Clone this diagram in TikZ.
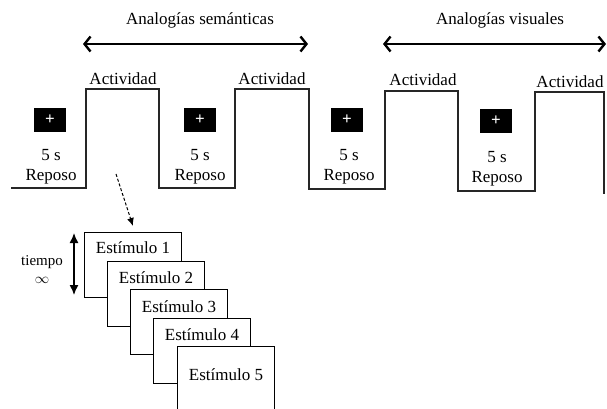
\documentclass[tikz,border=0pt]{standalone}
\usepackage{fontspec}
\setmainfont{Liberation Serif}
\usetikzlibrary{arrows.meta,positioning,calc}

\begin{document}
\begin{tikzpicture}[
  x=1pt, y=-1pt,
  font=\fontsize{17}{20}\selectfont,
  wave/.style  = {line width=1.6pt, black!85, line join=miter},
  span/.style  = {{Straight Barb[length=6pt,width=15pt,line width=2.4pt]}-{Straight Barb[length=6pt,width=15pt,line width=2.4pt]},
                  line width=1.5pt},
  cross/.style = {fill=black, minimum width=32pt, minimum height=24pt, inner sep=0pt,
                  text=white, font=\bfseries\fontsize{17}{17}\selectfont},
  txt/.style   = {inner sep=0pt, align=center},
  stim/.style  = {draw, fill=white, line width=0.9pt, minimum width=97pt,
                  minimum height=65pt, inner sep=0pt, anchor=north west},
  ttime/.style = {{Latex[length=10pt,width=9pt]}-{Latex[length=10pt,width=9pt]}, line width=1.4pt},
  hint/.style  = {-{Latex[length=8pt,width=7pt]}, line width=1pt, dash pattern=on 3pt off 2pt},
]
\clip (0,0) rectangle (607,408);

% ----------------------------- blocks on top ------------------------------
\node[txt] (lsem) at (200,20) {Analogías semánticas};
\node[txt] (lvis) at (500,20) {Analogías visuales};
\coordinate (sem0) at (83,44);
\coordinate (sem1) at (308,44);
\coordinate (vis0) at (383,44);
\coordinate (vis1) at (606,44);
\draw[span] (sem0) -- (sem1);
\draw[span] (vis0) -- (vis1);

% ----------------------------- on / off wave ------------------------------
\draw[wave] (11,188) -- (86,188) -- (86,89) -- (159,89) -- (159,188)
  -- (235,188) -- (235,89) -- (309,89) -- (309,189) -- (385,189) -- (385,91)
  -- (458,91) -- (458,191) -- (535,191) -- (535,92) -- (604,92) -- (604,194);

\node[txt] (act1) at (123,79) {Actividad};
\node[txt] (act2) at (272,79) {Actividad};
\node[txt] (act3) at (423,80) {Actividad};
\node[txt] (act4) at (570,82) {Actividad};

% ----------------------------- rest periods -------------------------------
\node[cross] (fix1) at (50,120) {+};
\node[cross] (fix2) at (200,120) {+};
\node[cross] (fix3) at (347,120) {+};
\node[cross] (fix4) at (496,121) {+};
\node[txt] (rep1) at (51,167) {5 s\\Reposo};
\node[txt] (rep2) at (200,167) {5 s\\Reposo};
\node[txt] (rep3) at (349,167) {5 s\\Reposo};
\node[txt] (rep4) at (497,169) {5 s\\Reposo};

% ----------------------------- stimulus stack -----------------------------
\node[stim] (s1) at (84,232) {};
\node[txt] (e1) at ($(s1.north)+(0,16)$) {Estímulo 1};
\node[stim] (s2) at (107,260.5) {};
\node[txt] (e2) at ($(s2.north)+(0,17)$) {Estímulo 2};
\node[stim] (s3) at (130,289) {};
\node[txt] (e3) at ($(s3.north)+(0,18)$) {Estímulo 3};
\node[stim] (s4) at (153,317.5) {};
\node[txt] (e4) at ($(s4.north)+(0,17)$) {Estímulo 4};
\node[stim] (s5) at (177,346) {};
\node[txt] (e5) at ($(s5.north)+(0,29)$) {Estímulo 5};

\coordinate (hint0) at (116,174);
\draw[hint] (hint0) -- ($(s1.north)+(0,-6)$);

\coordinate (tt0) at (74,233);
\coordinate (tt1) at (74,295);
\draw[ttime] (tt0) -- (tt1);
\node[txt, font=\fontsize{15}{17}\selectfont] (tiem) at (42,262) {tiempo};
\node[txt, font=\fontsize{15}{17}\selectfont] (inf) at (42,280) {$\infty$};

\end{tikzpicture}
\end{document}
